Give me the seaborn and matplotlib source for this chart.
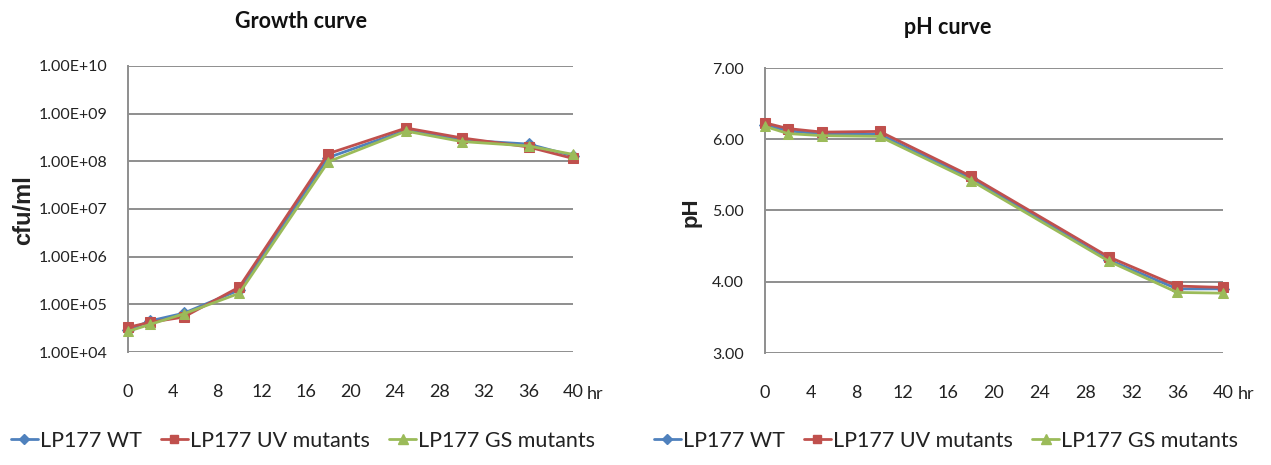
import matplotlib
matplotlib.use("Agg")
import matplotlib.pyplot as plt
from matplotlib.ticker import FixedLocator, FuncFormatter
from matplotlib.lines import Line2D
import seaborn as sns
import pandas as pd

# ---- data -------------------------------------------------------------
strains = ["LP177 WT", "LP177 UV mutants", "LP177 GS mutants"]

hours_growth = [0, 2, 5, 10, 18, 25, 30, 36, 40]
cfu_wt = [2.9e4, 4.5e4, 6.5e4, 2.0e5, 1.2e8, 4.5e8, 2.8e8, 2.3e8, 1.3e8]
cfu_uv = [3.3e4, 4.2e4, 5.4e4, 2.3e5, 1.45e8, 5.0e8, 3.1e8, 2.0e8, 1.15e8]
cfu_gs = [2.7e4, 3.8e4, 6.3e4, 1.7e5, 9.8e7, 4.3e8, 2.6e8, 2.1e8, 1.4e8]

hours_ph = [0, 2, 5, 10, 18, 30, 36, 40]
ph_wt = [6.20, 6.12, 6.07, 6.07, 5.45, 4.31, 3.90, 3.90]
ph_uv = [6.23, 6.15, 6.10, 6.11, 5.48, 4.35, 3.94, 3.92]
ph_gs = [6.18, 6.08, 6.05, 6.04, 5.42, 4.29, 3.85, 3.84]

x_ticks = [0, 4, 8, 12, 16, 20, 24, 28, 32, 36, 40]
cfu_ticks = [1e4, 1e5, 1e6, 1e7, 1e8, 1e9, 1e10]
ph_ticks = [3.0, 4.0, 5.0, 6.0, 7.0]

# ---- styling ----------------------------------------------------------
sns.set_theme(style="white")
plt.rcParams["font.family"] = ["Lato", "DejaVu Sans"]

palette = {"LP177 WT": "#4F81BD", "LP177 UV mutants": "#C0504D", "LP177 GS mutants": "#9BBB59"}
markers = {"LP177 WT": "D", "LP177 UV mutants": "s", "LP177 GS mutants": "^"}
msizes = {"LP177 WT": 6, "LP177 UV mutants": 7, "LP177 GS mutants": 7.5}
grid_c = "#8E8E8E"
text_c = "#222222"


def long_frame(hours, series):
    rows = []
    for name, vals in zip(strains, series):
        for h, v in zip(hours, vals):
            rows.append({"hour": h, "value": v, "strain": name})
    return pd.DataFrame(rows)


growth_df = long_frame(hours_growth, [cfu_wt, cfu_uv, cfu_gs])
ph_df = long_frame(hours_ph, [ph_wt, ph_uv, ph_gs])

W, H = 1271, 465
fig = plt.figure(figsize=(W / 100, H / 100), dpi=100)
ax1 = fig.add_axes([128 / W, 1 - 352 / H, 445 / W, 286 / H])
ax2 = fig.add_axes([765 / W, 1 - 353 / H, 458 / W, 285 / H])


def draw(ax, df):
    for name in strains:
        sub = df[df["strain"] == name]
        sns.lineplot(data=sub, x="hour", y="value", ax=ax, color=palette[name],
                     marker=markers[name], markersize=msizes[name],
                     markeredgecolor=palette[name], linewidth=2.0,
                     legend=False, clip_on=False, zorder=3)


def style_axes(ax):
    ax.set_xlim(0, 40)
    ax.xaxis.set_major_locator(FixedLocator(x_ticks))
    ax.set_xticklabels([str(t) for t in x_ticks])
    ax.grid(axis="y", color=grid_c, linewidth=1.4)
    ax.grid(axis="x", visible=False)
    ax.set_axisbelow(True)
    for s in ["top", "right", "bottom"]:
        ax.spines[s].set_visible(False)
    ax.spines["left"].set_color(grid_c)
    ax.spines["left"].set_linewidth(1.4)
    ax.tick_params(axis="x", length=0, pad=23, labelsize=13, labelcolor=text_c)
    ax.tick_params(axis="y", length=0, pad=15, labelsize=11.5, labelcolor=text_c)
    ax.set_xlabel("")
    ax.set_ylabel("")


draw(ax1, growth_df)
ax1.set_yscale("log")
ax1.set_ylim(1e4, 1e10)
ax1.yaxis.set_major_locator(FixedLocator(cfu_ticks))
ax1.yaxis.set_minor_locator(FixedLocator([]))
ax1.yaxis.set_major_formatter(FuncFormatter(lambda v, p: f"{v:.2E}"))
style_axes(ax1)

draw(ax2, ph_df)
ax2.set_ylim(3, 7)
ax2.yaxis.set_major_locator(FixedLocator(ph_ticks))
ax2.yaxis.set_major_formatter(FuncFormatter(lambda v, p: f"{v:.2f}"))
style_axes(ax2)

# unit text after the last tick label
fig.text(587 / W, 1 - 399 / H, "hr", ha="left", va="baseline",
         fontsize=13, color=text_c)
fig.text(1238 / W, 1 - 399 / H, "hr", ha="left", va="baseline",
         fontsize=13, color=text_c)

# titles
fig.text(301 / W, 1 - 22 / H, "Growth curve", ha="center", va="center",
         fontsize=15.5, fontweight="bold", color="#111111")
fig.text(948 / W, 1 - 27 / H, "pH curve", ha="center", va="center",
         fontsize=15.5, fontweight="bold", color="#111111")

# axis titles
fig.text(24 / W, 1 - 210 / H, "cfu/ml", rotation=90, ha="center", va="center",
         fontsize=17, fontweight="bold", color=text_c,
         family=["Liberation Sans", "DejaVu Sans"])
fig.text(691 / W, 1 - 212 / H, "pH", rotation=90, ha="center", va="center",
         fontsize=16, fontweight="bold", color=text_c,
         family=["Liberation Sans", "DejaVu Sans"])

# legends
handles = [Line2D([0], [0], color=palette[n], marker=markers[n], linewidth=2.0,
                  markersize=msizes[n] - 1, markeredgecolor=palette[n]) for n in strains]
for cx in (303 / W, 946 / W):
    fig.legend(handles, strains, loc="center", bbox_to_anchor=(cx, 1 - 441 / H),
               ncol=3, frameon=False, fontsize=15.5, handlelength=1.25,
               handletextpad=0.1, columnspacing=0.9, labelcolor=text_c)

fig.savefig("out.png", dpi=100, facecolor="white")
